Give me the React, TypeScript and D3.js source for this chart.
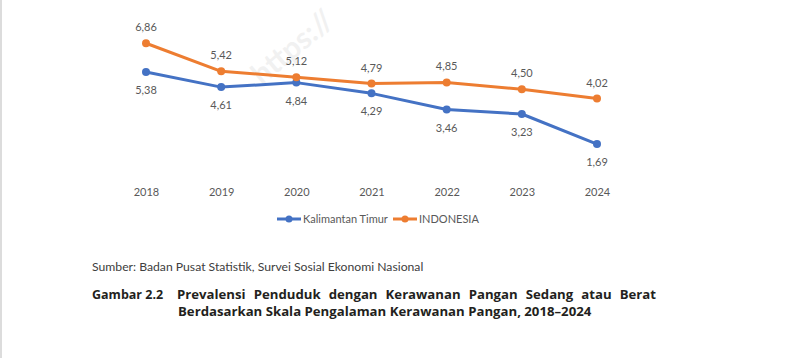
import React, { useEffect, useRef } from 'react';
import * as d3 from 'd3';

const years = ['2018', '2019', '2020', '2021', '2022', '2023', '2024'];
const kaltimValues = [5.38, 4.61, 4.84, 4.29, 3.46, 3.23, 1.69];
const indonesiaValues = [6.86, 5.42, 5.12, 4.79, 4.85, 4.5, 4.02];
const seriesNames = ['Kalimantan Timur', 'INDONESIA'];
const seriesColors = ['#4472C4', '#ED7D31'];

const sourceText = 'Sumber: Badan Pusat Statistik, Survei Sosial Ekonomi Nasional';
const captionLabel = 'Gambar 2.2';
const captionLine1 = 'Prevalensi Penduduk dengan Kerawanan Pangan Sedang atau Berat';
const captionLine2 = 'Berdasarkan Skala Pengalaman Kerawanan Pangan, 2018–2024';

const width = 800;
const height = 358;

const App: React.FC = () => {
  const svgRef = useRef<SVGSVGElement>(null);

  useEffect(() => {
    if (!svgRef.current) return;
    const svg = d3.select(svgRef.current);
    svg.selectAll('*').remove();

    svg.append('rect').attr('width', width).attr('height', height).attr('fill', '#ffffff');
    // thin grey edge on the left of the scan
    svg.append('rect').attr('x', 0).attr('y', 0).attr('width', 2).attr('height', height).attr('fill', '#dcdcdc');

    const x = d3.scalePoint<string>().domain(years).range([146, 597]);
    const y = d3.scaleLinear().domain([0, 8]).range([177, 21]);

    // faint watermark
    svg.append('text')
      .attr('transform', 'translate(262,86) rotate(-40)')
      .attr('font-family', 'Lato, sans-serif')
      .attr('font-weight', 'bold')
      .attr('font-size', 30)
      .attr('fill', '#000')
      .attr('opacity', 0.05)
      .text('https://');

    const font = 'Lato, "Open Sans", sans-serif';
    const series = [kaltimValues, indonesiaValues];

    const line = d3.line<number>()
      .x((_, i) => x(years[i]) as number)
      .y(d => y(d));

    series.forEach((vals, si) => {
      const color = seriesColors[si];
      svg.append('path')
        .datum(vals)
        .attr('d', line)
        .attr('fill', 'none')
        .attr('stroke', color)
        .attr('stroke-width', 3)
        .attr('stroke-linejoin', 'round');

      svg.append('g')
        .selectAll('circle')
        .data(vals)
        .enter()
        .append('circle')
        .attr('cx', (_, i) => x(years[i]) as number)
        .attr('cy', d => y(d))
        .attr('r', 4)
        .attr('fill', color);

      svg.append('g')
        .selectAll('text')
        .data(vals)
        .enter()
        .append('text')
        .attr('x', (_, i) => x(years[i]) as number)
        .attr('y', d => (si === 1 ? y(d) - 12 : y(d) + 22))
        .attr('text-anchor', 'middle')
        .attr('font-family', font)
        .attr('font-size', 11)
        .attr('fill', '#595959')
        .text(d => d.toFixed(2).replace('.', ','));
    });

    // x axis labels
    const xAxis = d3.axisBottom(x).tickSize(0).tickPadding(0);
    const axisG = svg.append('g')
      .attr('transform', 'translate(0,188)')
      .call(xAxis);
    axisG.select('.domain').remove();
    axisG.selectAll('text')
      .attr('font-family', font)
      .attr('font-size', 11)
      .attr('fill', '#595959');

    // legend
    const legendX = [277, 393];
    seriesNames.forEach((name, i) => {
      const g = svg.append('g').attr('transform', `translate(${legendX[i]},219)`);
      g.append('line')
        .attr('x1', 0).attr('x2', 24)
        .attr('stroke', seriesColors[i])
        .attr('stroke-width', 3);
      g.append('circle').attr('cx', 12).attr('r', 3.5).attr('fill', seriesColors[i]);
      g.append('text')
        .attr('x', 26)
        .attr('dy', '0.35em')
        .attr('font-family', font)
        .attr('font-size', 11)
        .attr('fill', '#595959')
        .text(name);
    });

    // source
    svg.append('text')
      .attr('x', 92)
      .attr('y', 271)
      .attr('font-family', font)
      .attr('font-size', 12.2)
      .attr('fill', '#404040')
      .text(sourceText);

    // caption
    const capFont = '"Open Sans", sans-serif';
    svg.append('text')
      .attr('x', 92)
      .attr('y', 299)
      .attr('font-family', capFont)
      .attr('font-weight', 'bold')
      .attr('font-size', 12.5)
      .attr('fill', '#231f20')
      .text(captionLabel);

    const l1 = svg.append('text')
      .attr('x', 177)
      .attr('y', 299)
      .attr('font-family', capFont)
      .attr('font-weight', 'bold')
      .attr('font-size', 13.2)
      .attr('fill', '#231f20')
      .text(captionLine1);
    // justify first line to the right edge
    const node = l1.node() as SVGTextElement;
    const w = node.getComputedTextLength();
    const gaps = captionLine1.split(' ').length - 1;
    const target = 656 - 177;
    if (gaps > 0 && w < target) l1.attr('word-spacing', (target - w) / gaps);

    svg.append('text')
      .attr('x', 178)
      .attr('y', 316)
      .attr('font-family', capFont)
      .attr('font-weight', 'bold')
      .attr('font-size', 13.2)
      .attr('fill', '#231f20')
      .text(captionLine2);
  }, []);

  return (
    <svg
      ref={svgRef}
      width={width}
      height={height}
      style={{ position: 'absolute', left: 0, top: 0, display: 'block' }}
    />
  );
};

export default App;
